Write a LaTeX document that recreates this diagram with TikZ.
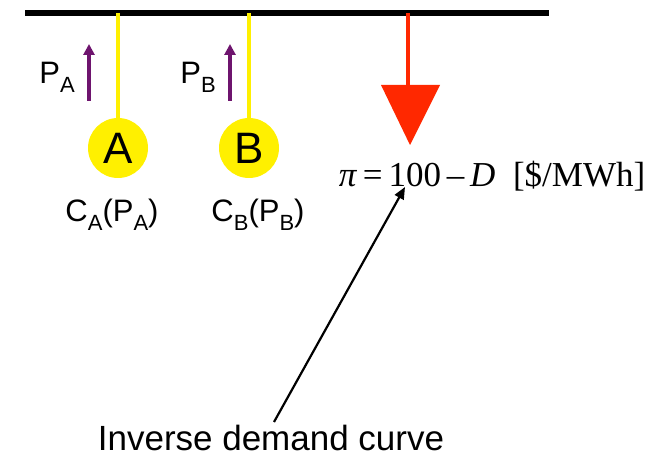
\documentclass[tikz,border=0pt]{standalone}
\usepackage{fontspec}
\setmainfont{Liberation Sans}
\newfontfamily\serifeq{Liberation Serif}
\usetikzlibrary{arrows.meta}
\definecolor{genyellow}{RGB}{255,240,0}
\definecolor{flowpurple}{RGB}{110,20,110}
\definecolor{loadred}{RGB}{255,40,0}
\newcommand{\sbx}[1]{\raisebox{-0.28em}{\fontsize{22}{22}\selectfont #1}}
\tikzset{
  gen/.style={circle, fill=genyellow, minimum size=60pt, inner sep=0pt, font=\fontsize{44}{44}\selectfont},
  feeder/.style={genyellow, line width=3.5pt},
  flow/.style={flowpurple, line width=3.5pt, -{Triangle[length=11pt,width=11pt]}},
  lbl/.style={font=\fontsize{31}{32}\selectfont, inner sep=0pt},
  pointer/.style={black, line width=2.2pt, -{Triangle[length=12pt,width=10pt]}}
}
\begin{document}
\begin{tikzpicture}[x=1pt,y=-1pt]
\useasboundingbox (0,0) rectangle (672,457);
% bus
\coordinate (busL) at (25,13);
\coordinate (busR) at (549,13);
\draw[line width=5.5pt] (busL) -- (busR);
% generators
\node[gen] (A) at (118,148) {A};
\node[gen] (B) at (249,148) {B};
\coordinate (tA) at (118,13);
\coordinate (tB) at (249,13);
\draw[feeder] (tA) -- (A.north);
\draw[feeder] (tB) -- (B.north);
% flow arrows
\coordinate (fa1) at (89,101);
\coordinate (fa2) at (89,44);
\coordinate (fb1) at (230,101);
\coordinate (fb2) at (230,44);
\draw[flow] (fa1) -- (fa2);
\draw[flow] (fb1) -- (fb2);
\node[lbl] (PA) at (57,77) {P\sbx{A}};
\node[lbl] (PB) at (198,77) {P\sbx{B}};
\node[lbl] (CA) at (112,215) {C\sbx{A}(P\sbx{A})};
\node[lbl] (CB) at (258,215) {C\sbx{B}(P\sbx{B})};
% load
\coordinate (ld1) at (408,13);
\coordinate (ld2) at (408,88);
\draw[loadred, line width=4pt] (ld1) -- (ld2);
\fill[loadred] (381,85) -- (440,85) -- (410,145) -- cycle;
\node[font=\serifeq\fontsize{35}{35}\selectfont, inner sep=0pt] (eq) at (492,176)
  {\textit{π}\,=\,100\,–\,\textit{D}\ \ [\$/MWh]};
% pointer
\node[font=\fontsize{35}{35}\selectfont, inner sep=0pt] (inv) at (271,438) {Inverse demand curve};
\coordinate (pt) at (405,187);
\coordinate (ps) at (274,422);
\draw[pointer] (ps) -- (pt);
\end{tikzpicture}
\end{document}
